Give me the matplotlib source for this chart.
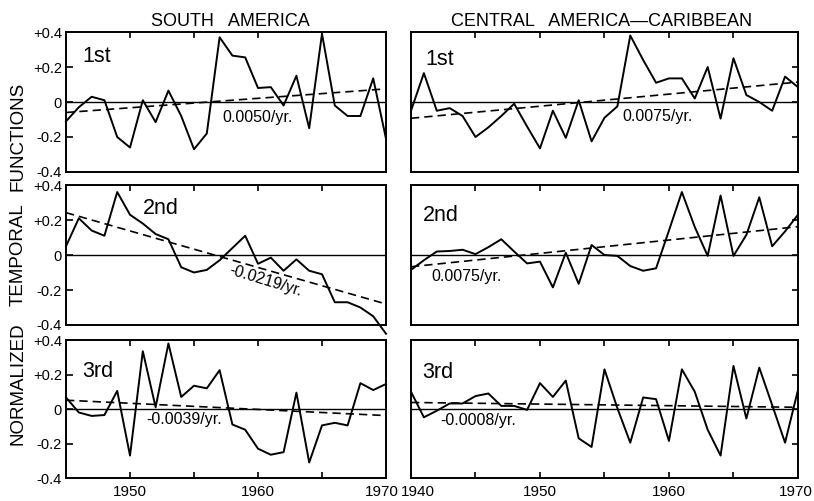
import numpy as np
import matplotlib
matplotlib.use("Agg")
import matplotlib.pyplot as plt
from matplotlib.transforms import ScaledTranslation

# years
sa_years = np.arange(1945, 1971)
ca_years = np.arange(1940, 1971)

# South America, components 1-3
sa_1st = [-0.11, -0.03, 0.03, 0.01, -0.20, -0.26, 0.01, -0.115, 0.065, -0.08,
          -0.27, -0.18, 0.37, 0.265, 0.255, 0.08, 0.085, -0.02, 0.15, -0.15,
          0.39, -0.02, -0.08, -0.08, 0.135, -0.21]
sa_2nd = [0.05, 0.21, 0.14, 0.11, 0.36, 0.23, 0.18, 0.12, 0.09, -0.07,
          -0.10, -0.085, -0.03, 0.04, 0.11, -0.05, -0.015, -0.09, -0.025, -0.09,
          -0.11, -0.27, -0.27, -0.30, -0.35, -0.45]
sa_3rd = [0.067, -0.02, -0.04, -0.035, 0.105, -0.27, 0.335, 0.01, 0.38, 0.07,
          0.135, 0.12, 0.225, -0.09, -0.12, -0.23, -0.265, -0.25, 0.095, -0.31,
          -0.095, -0.08, -0.095, 0.15, 0.11, 0.145]

# Central America - Caribbean, components 1-3
ca_1st = [-0.05, 0.165, -0.05, -0.035, -0.08, -0.20, -0.145, -0.08, -0.01, -0.14,
          -0.265, -0.05, -0.205, 0.01, -0.225, -0.09, -0.025, 0.38, 0.24, 0.11,
          0.135, 0.135, 0.02, 0.20, -0.095, 0.25, 0.04, 0.0, -0.05, 0.145, 0.085]
ca_2nd = [-0.085, -0.03, 0.02, 0.023, 0.03, 0.005, 0.045, 0.09, 0.02, -0.048,
          -0.038, -0.185, 0.013, -0.165, 0.057, 0.0, -0.005, -0.063, -0.09, -0.076,
          0.14, 0.36, 0.16, -0.005, 0.34, -0.005, 0.115, 0.33, 0.05, 0.135, 0.23]
ca_3rd = [0.10, -0.048, -0.01, 0.032, 0.032, 0.075, 0.09, 0.018, 0.018, -0.005,
          0.15, 0.07, 0.165, -0.17, -0.22, 0.23, 0.005, -0.195, 0.067, 0.057,
          -0.185, 0.23, 0.10, -0.12, -0.27, 0.25, -0.055, 0.24, 0.023, -0.195, 0.11]

# linear trend end values (first year, last year) and labels
sa_trend = [(-0.06, 0.075), (0.242, -0.28), (0.051, -0.038)]
ca_trend = [(-0.093, 0.114), (-0.067, 0.162), (0.038, 0.01)]
sa_rates = ["0.0050/yr.", "-0.0219/yr.", "-0.0039/yr."]
ca_rates = ["0.0075/yr.", "0.0075/yr.", "-0.0008/yr."]
order_labels = ["1st", "2nd", "3rd"]
ytick_vals = [-0.4, -0.2, 0, 0.2, 0.4]
ytick_text = ["-0.4", "-0.2", "0", "+0.2", "+0.4"]

plt.rcParams['font.family'] = ['Liberation Sans', 'DejaVu Sans']

fig = plt.figure(figsize=(8.14, 5.01), dpi=100)

rows = [(0.6567, 0.2794), (0.3513, 0.2794), (0.0459, 0.2754)]
left_x, left_w = 0.0811, 0.3931
right_x, right_w = 0.5049, 0.4754

sa_series = [sa_1st, sa_2nd, sa_3rd]
ca_series = [ca_1st, ca_2nd, ca_3rd]

# label placement (axes fraction for order label, data for rate text)
sa_lab_pos = [(0.05, 0.90), (0.24, 0.91), (0.05, 0.85)]
ca_lab_pos = [(0.036, 0.88), (0.03, 0.86), (0.03, 0.84)]
sa_rate_pos = [(1957.2, -0.09, 0), (1960.6, -0.15, -17), (1951.3, -0.06, 0)]
ca_rate_pos = [(1956.4, -0.085, 0), (1941.6, -0.125, 0), (1942.3, -0.065, 0)]


def style(ax, xlim, xticks, bottom, left_labels):
    ax.set_xlim(*xlim)
    ax.set_ylim(-0.4, 0.4)
    for s in ax.spines.values():
        s.set_linewidth(1.4)
    ax.axhline(0, color="black", lw=1.0)
    ax.set_xticks(xticks)
    ax.tick_params(axis="x", which="both", direction="in", top=True,
                   bottom=bottom, labelbottom=bottom, length=4, width=1.2,
                   labelsize=11, pad=5)
    ax.set_yticks(ytick_vals)
    if left_labels:
        ax.set_yticklabels(ytick_text)
        ax.tick_params(axis="y", direction="in", left=True, right=False,
                       length=5, width=1.2, labelsize=10.5, pad=3)
    else:
        ax.tick_params(axis="y", direction="in", left=False, right=True,
                       labelleft=False, length=4, width=1.2)


axes_left, axes_right = [], []
for i, (y0, h) in enumerate(rows):
    bottom = (i == 2)
    # South America
    ax = fig.add_axes([left_x, y0, left_w, h])
    style(ax, (1945, 1970), [1950, 1955, 1960, 1965, 1970], bottom, True)
    ax.plot(sa_years, sa_series[i], color="black", lw=1.4, clip_on=False)
    ax.plot([sa_years[0], sa_years[-1]], sa_trend[i], color="black", lw=1.2,
            dashes=(5, 3))
    lx, ly = sa_lab_pos[i]
    ax.text(lx, ly, order_labels[i], transform=ax.transAxes, fontsize=15.5,
            va="top", ha="left")
    tx, ty, rot = sa_rate_pos[i]
    ax.text(tx, ty, sa_rates[i], fontsize=11.5, rotation=rot,
            ha="left" if rot == 0 else "center", va="center",
            rotation_mode="anchor")
    if bottom:
        ax.set_xticklabels(["1950", "", "1960", "", "1970"])
    axes_left.append(ax)

    # Central America - Caribbean
    ax = fig.add_axes([right_x, y0, right_w, h])
    style(ax, (1940, 1970), [1940, 1945, 1950, 1955, 1960, 1965, 1970],
          bottom, False)
    ax.plot(ca_years, ca_series[i], color="black", lw=1.4)
    ax.plot([ca_years[0], ca_years[-1]], ca_trend[i], color="black", lw=1.2,
            dashes=(5, 3))
    lx, ly = ca_lab_pos[i]
    ax.text(lx, ly, order_labels[i], transform=ax.transAxes, fontsize=15.5,
            va="top", ha="left")
    tx, ty, rot = ca_rate_pos[i]
    ax.text(tx, ty, ca_rates[i], fontsize=11.5, ha="left", va="center")
    if bottom:
        ax.set_xticklabels(["1940", "", "1950", "", "1960", "", "1970"])
    axes_right.append(ax)

# nudge the crowded year labels at the panel joint
def nudge(label, dx_px):
    label.set_transform(label.get_transform() +
                        ScaledTranslation(dx_px / 100, 0, fig.dpi_scale_trans))

nudge(axes_left[2].get_xticklabels()[-1], -4)
nudge(axes_right[2].get_xticklabels()[0], 7)
nudge(axes_right[2].get_xticklabels()[-1], -2)

fig.text(0.283, 0.958, "SOUTH   AMERICA", ha="center", va="center", fontsize=13)
fig.text(0.739, 0.958, "CENTRAL   AMERICA\u2014CARIBBEAN", ha="center",
         va="center", fontsize=13)
for word, yc in [("FUNCTIONS", 0.7285), ("TEMPORAL", 0.491),
                 ("NORMALIZED", 0.2335)]:
    fig.text(0.0227, yc, word, rotation=90, ha="center", va="center",
             fontsize=13.5)

fig.savefig("out.png", dpi=100)
